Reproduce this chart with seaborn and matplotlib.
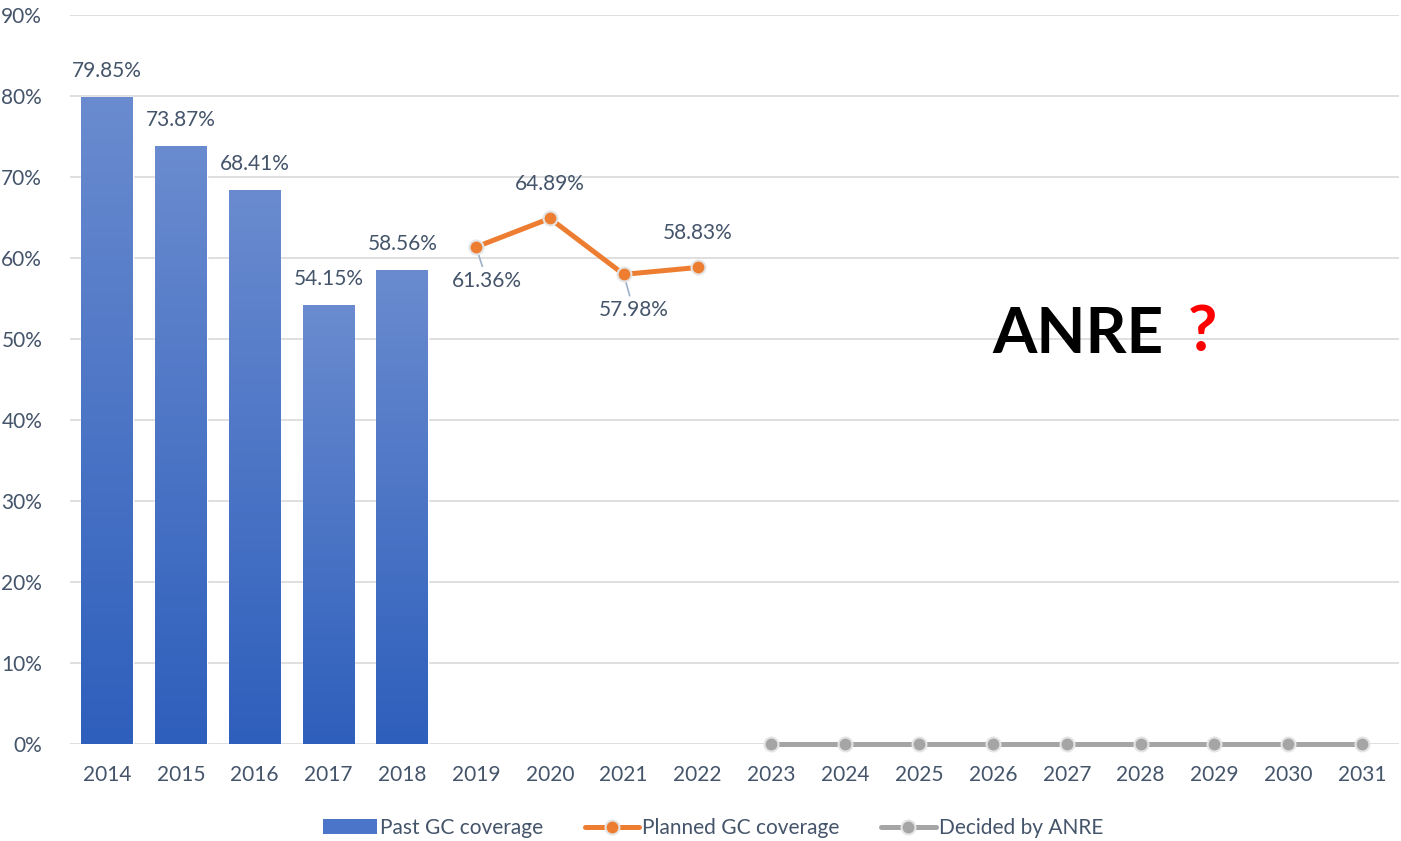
import numpy as np
import pandas as pd
import matplotlib
matplotlib.use("Agg")
import matplotlib.pyplot as plt
import seaborn as sns
from matplotlib.lines import Line2D
from matplotlib.patches import Patch
from matplotlib.colors import LinearSegmentedColormap
from matplotlib.ticker import FuncFormatter

# 数据
past_years = [2014, 2015, 2016, 2017, 2018]
past_values = [79.85, 73.87, 68.41, 54.15, 58.56]
planned_years = [2019, 2020, 2021, 2022]
planned_values = [61.36, 64.89, 57.98, 58.83]
anre_years = [2023, 2024, 2025, 2026, 2027, 2028, 2029, 2030, 2031]
anre_values = [0, 0, 0, 0, 0, 0, 0, 0, 0]
all_years = past_years + planned_years + anre_years

sns.set_style("white")
plt.rcParams['font.family'] = ['Lato', 'DejaVu Sans']

txt_color = '#44546a'
orange = '#ed7d31'
gray = '#a5a5a5'

fig = plt.figure(figsize=(14.01, 8.41), dpi=100)
ax = fig.add_axes([70 / 1401, 97 / 841, 1329 / 1401, 729 / 841])

df_past = pd.DataFrame({'year': past_years, 'value': past_values})
sns.barplot(data=df_past, x='year', y='value', native_scale=True, width=0.7,
            color='#4472c4', ax=ax, zorder=2)

# 柱子渐变填充
cmap = LinearSegmentedColormap.from_list('bluegrad', ['#2e5fbc', '#6a8bcf'])
grad = np.linspace(0, 1, 256).reshape(-1, 1)
for p in list(ax.patches):
    x0, y0 = p.get_x(), p.get_y()
    w, h = p.get_width(), p.get_height()
    im = ax.imshow(grad, cmap=cmap, origin='lower', aspect='auto',
                   extent=[x0, x0 + w, y0, y0 + h], zorder=2.5)
    im.set_clip_path(p)

line_kw = dict(linewidth=3.6, marker='o', markersize=10, markeredgecolor='#e4e4e4',
               markeredgewidth=1.5, zorder=4, clip_on=False)
df_plan = pd.DataFrame({'year': planned_years, 'value': planned_values})
sns.lineplot(data=df_plan, x='year', y='value', color=orange, ax=ax, **line_kw)
df_anre = pd.DataFrame({'year': anre_years, 'value': anre_values})
sns.lineplot(data=df_anre, x='year', y='value', color=gray, ax=ax, **line_kw)

# 数据标签
for yr, v in zip(past_years, past_values):
    ax.annotate(f"{v:.2f}%", (yr, v), xytext=(0, 26), textcoords='offset pixels',
                ha='center', va='center', fontsize=15, color=txt_color)

label_offsets = [(11, -34, True), (0, 34, False), (10, -36, True), (0, 34, False)]
for (yr, v), (dx, dy, leader) in zip(zip(planned_years, planned_values), label_offsets):
    if leader:
        ax.annotate(f"{v:.2f}%", (yr, v), xytext=(dx, dy), textcoords='offset pixels',
                    ha='center', va='center', fontsize=15, color=txt_color,
                    arrowprops=dict(arrowstyle='-', color='#9fb0c8', lw=1.2,
                                    shrinkA=1, shrinkB=0), zorder=3)
    else:
        ax.annotate(f"{v:.2f}%", (yr, v), xytext=(dx, dy), textcoords='offset pixels',
                    ha='center', va='center', fontsize=15, color=txt_color)

ax.text(2028.31, 50.5, "ANRE", fontsize=46, fontweight='bold', color='black',
        ha='right', va='center')
ax.text(2028.84, 50.8, "?", fontsize=46, fontweight='bold', color='red',
        ha='center', va='center')

ax.set_xlim(2013.5, 2031.5)
ax.set_ylim(0, 90)
ax.set_xticks(all_years)
ax.set_xticklabels([str(y) for y in all_years])
ax.set_yticks(range(0, 91, 10))
ax.yaxis.set_major_formatter(FuncFormatter(lambda v, pos: f"{int(v)}%"))
ax.tick_params(axis='both', length=0, labelsize=15, labelcolor=txt_color)
ax.tick_params(axis='x', pad=15)
ax.tick_params(axis='y', pad=20)
ax.set_xlabel("")
ax.set_ylabel("")
ax.grid(axis='y', color='#d9d9d9', linewidth=1.2, zorder=0)
ax.set_axisbelow(True)
for s in ax.spines.values():
    s.set_visible(False)

handles = [
    Patch(facecolor='#4a75c9', edgecolor='none'),
    Line2D([0], [0], color=orange, lw=3.6, marker='o', markersize=10,
           markeredgecolor='#e4e4e4', markeredgewidth=1.5),
    Line2D([0], [0], color=gray, lw=3.6, marker='o', markersize=10,
           markeredgecolor='#e4e4e4', markeredgewidth=1.5),
]
labels = ["Past GC coverage", "Planned GC coverage", "Decided by ANRE"]
leg = fig.legend(handles, labels, loc='center', bbox_to_anchor=(713 / 1401, 1 - 828 / 841),
                 ncol=3, frameon=False, fontsize=15, handlelength=2.6,
                 handletextpad=0.15, columnspacing=2.0)
for t in leg.get_texts():
    t.set_color(txt_color)

fig.savefig("out.png", dpi=100)
